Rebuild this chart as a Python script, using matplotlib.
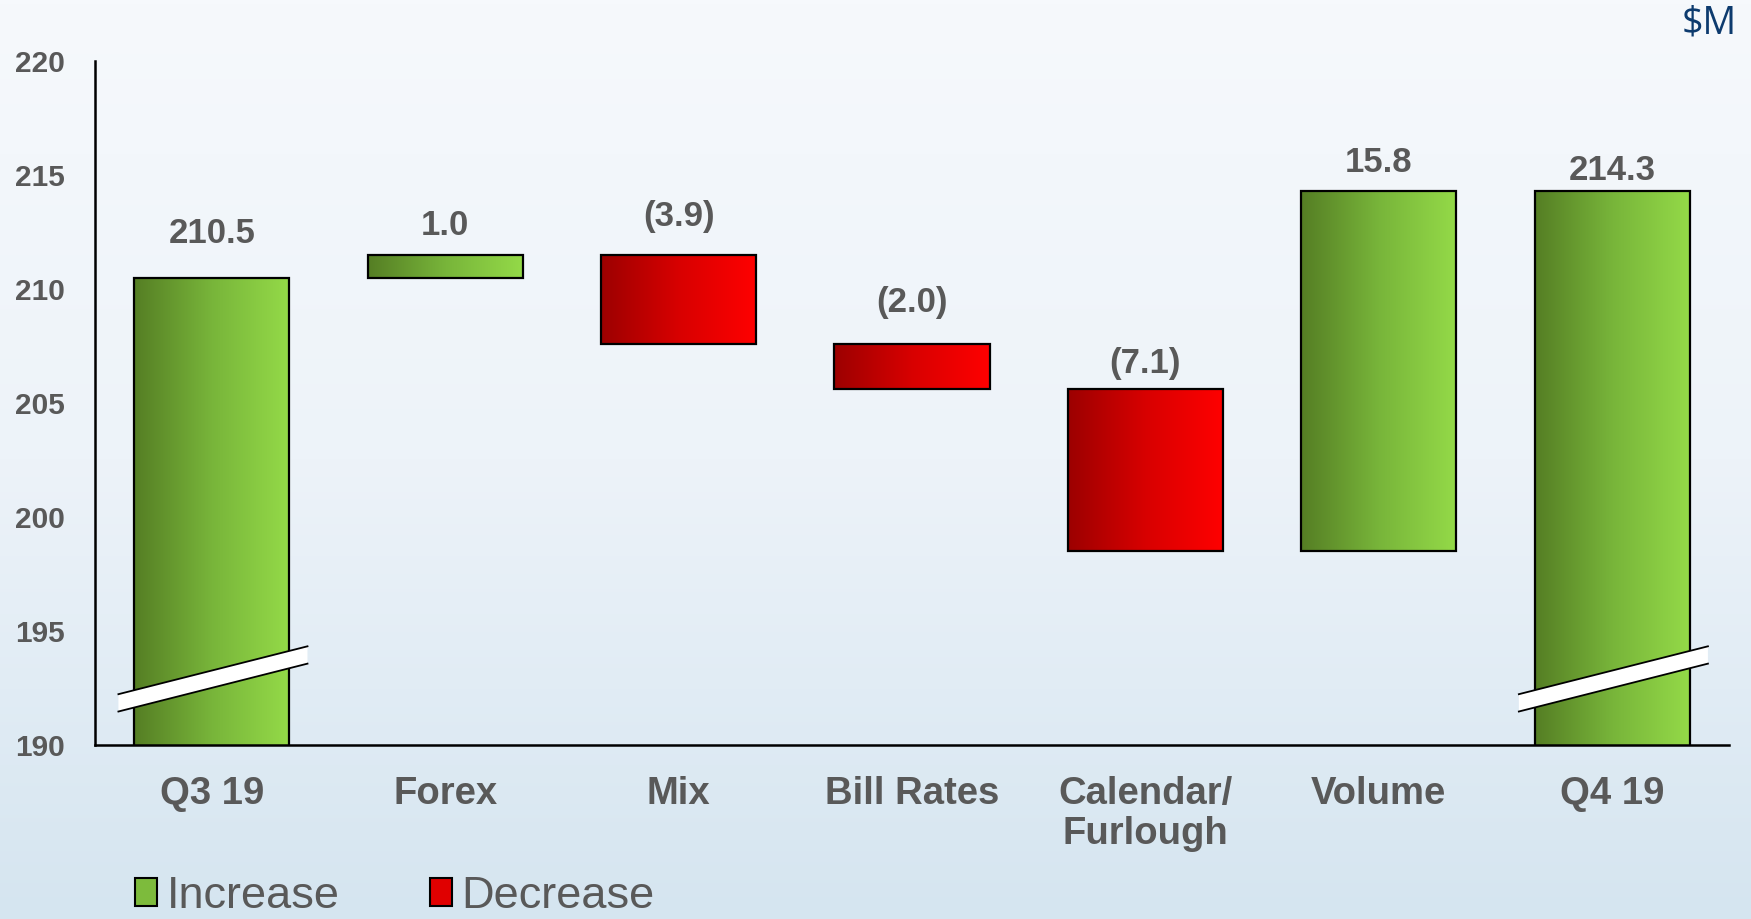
import numpy as np
import matplotlib.pyplot as plt
from matplotlib.colors import LinearSegmentedColormap
from matplotlib.patches import Polygon, Patch

categories = ['Q3 19', 'Forex', 'Mix', 'Bill Rates', 'Calendar/\nFurlough', 'Volume', 'Q4 19']
values = [210.5, 1.0, -3.9, -2.0, -7.1, 15.8, 214.3]
is_total = [True, False, False, False, False, False, True]
value_labels = ['210.5', '1.0', '(3.9)', '(2.0)', '(7.1)', '15.8', '214.3']
yticks = [190, 195, 200, 205, 210, 215, 220]

# label offset above bar top, in points (as placed on the slide)
label_pad = [32, 21, 27.5, 30, 18.5, 20.5, 14.5]

GREY = '#595959'
green_cmap = LinearSegmentedColormap.from_list('g', ['#557e24', '#78b53a', '#94da48'])
red_cmap = LinearSegmentedColormap.from_list('r', ['#9c0000', '#d80000', '#ff0000'])

plt.rcParams['font.family'] = ['Liberation Sans', 'DejaVu Sans']

fig = plt.figure(figsize=(17.51, 9.19), dpi=100)

# background gradient
bg = fig.add_axes([0, 0, 1, 1], zorder=-10)
grad = np.linspace(0, 1, 256).reshape(-1, 1)
bg_cmap = LinearSegmentedColormap.from_list('bg', ['#f6f9fc', '#edf3f9', '#d5e5f0'])
bg.imshow(grad, aspect='auto', cmap=bg_cmap, extent=(0, 1, 1, 0))
bg.axis('off')

ax = fig.add_axes([0.0543, 0.1893, 0.9331, 0.7443])
ax.set_facecolor('none')
ymin, ymax = 190, 220
ax.set_ylim(ymin, ymax)
ax.set_xlim(-0.5, len(categories) - 0.5)

# waterfall bottoms / heights
bottoms, heights, kinds = [], [], []
level = 0.0
for v, tot in zip(values, is_total):
    if tot:
        bottoms.append(0.0)
        heights.append(v)
        level = v
        kinds.append('inc')
    else:
        if v >= 0:
            bottoms.append(level)
        else:
            bottoms.append(level + v)
        heights.append(abs(v))
        level += v
        kinds.append('inc' if v >= 0 else 'dec')

x = np.arange(len(categories))
width = 0.665
bars = ax.bar(x, heights, width, bottom=bottoms, color='none',
              edgecolor='black', linewidth=1.6, zorder=3)

hgrad = np.linspace(0, 1, 256).reshape(1, -1)
for b, kind in zip(bars, kinds):
    x0 = b.get_x()
    y0 = max(b.get_y(), ymin)
    y1 = b.get_y() + b.get_height()
    im = ax.imshow(hgrad, aspect='auto', cmap=green_cmap if kind == 'inc' else red_cmap,
                   extent=(x0, x0 + b.get_width(), y0, y1), zorder=2)
    im.set_clip_path(b)

# value labels
for b, lab, pad in zip(bars, value_labels, label_pad):
    top = b.get_y() + b.get_height()
    ax.annotate(lab, (b.get_x() + b.get_width() / 2, top), xytext=(0, pad),
                textcoords='offset points', ha='center', va='center',
                fontsize=25, fontweight='bold', color=GREY)

# axis break marks on the total bars
for i, tot in enumerate(is_total):
    if not tot:
        continue
    xl, xr = i - 0.4, i + 0.41
    yl, yr = 191.85, 193.95
    t = 0.38
    ax.add_patch(Polygon([(xl, yl - t), (xr, yr - t), (xr, yr + t), (xl, yl + t)],
                         closed=True, facecolor='white', edgecolor='none',
                         zorder=5, clip_on=False))
    ax.plot([xl, xr], [yl + t, yr + t], color='black', lw=1.3, zorder=6, clip_on=False)
    ax.plot([xl, xr], [yl - t, yr - t], color='black', lw=1.3, zorder=6, clip_on=False)

ax.set_xticks(x)
ax.set_xticklabels(categories, fontsize=27.5, fontweight='bold', color=GREY, linespacing=1.15)
ax.set_yticks(yticks)
ax.set_yticklabels([str(t) for t in yticks], fontsize=21.5, fontweight='bold', color=GREY)
ax.tick_params(axis='x', length=0, pad=22)
ax.tick_params(axis='y', length=0, pad=22)

for s in ['top', 'right']:
    ax.spines[s].set_visible(False)
for s in ['left', 'bottom']:
    ax.spines[s].set_linewidth(1.8)
    ax.spines[s].set_color('black')

fig.text(0.992, 0.974, '$M', ha='right', va='center', fontsize=27,
         color='#0d3b6e', family=['Open Sans', 'DejaVu Sans'])

handles = [Patch(facecolor='#7dbb3c', edgecolor='black', linewidth=1.5, label='Increase'),
           Patch(facecolor='#e00000', edgecolor='black', linewidth=1.5, label='Decrease')]
leg = fig.legend(handles=handles, loc='lower left', bbox_to_anchor=(0.0772, 0.002),
                 ncol=2, frameon=False, fontsize=32.5, handlelength=0.49, handleheight=0.57,
                 handletextpad=0.22, columnspacing=1.98, borderpad=0, borderaxespad=0)
for txt in leg.get_texts():
    txt.set_color(GREY)

fig.savefig('out.png', dpi=100)
